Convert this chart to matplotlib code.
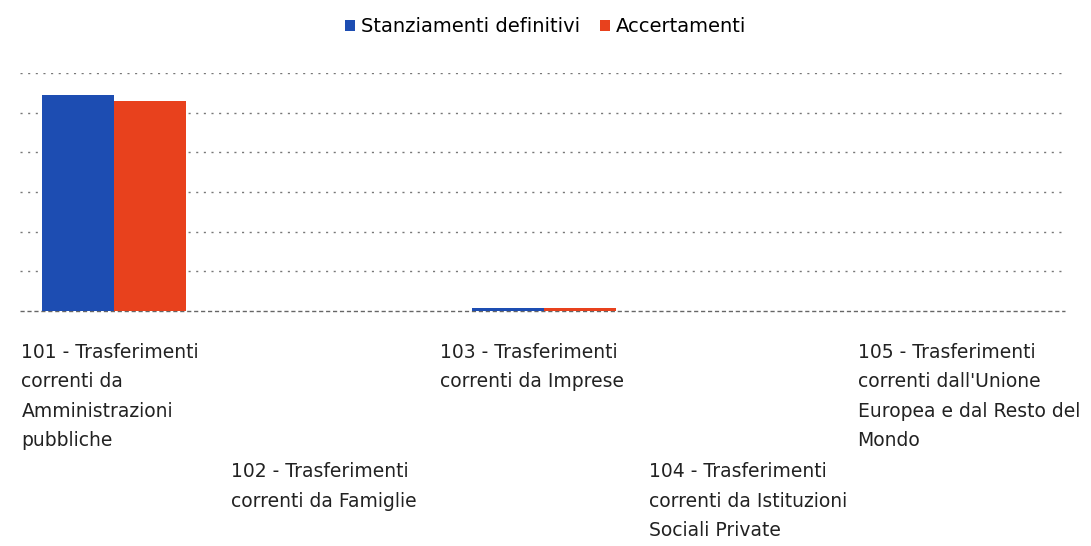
import matplotlib.pyplot as plt
import matplotlib.transforms as mtransforms
import numpy as np

# categorie e valori (scala arbitraria, nessuna etichetta sull'asse y)
categorie = [
    "101 - Trasferimenti\ncorrenti da\nAmministrazioni\npubbliche",
    "102 - Trasferimenti\ncorrenti da Famiglie",
    "103 - Trasferimenti\ncorrenti da Imprese",
    "104 - Trasferimenti\ncorrenti da Istituzioni\nSociali Private",
    "105 - Trasferimenti\ncorrenti dall'Unione\nEuropea e dal Resto del\nMondo",
]
stanziamenti = [5.45, 0.0, 0.07, 0.0, 0.0]
accertamenti = [5.30, 0.0, 0.07, 0.0, 0.0]

col_blu = '#1d4db2'
col_rosso = '#e8411d'

fig = plt.figure(figsize=(10.91, 5.46), dpi=100)
ax = fig.add_axes([0.0183, 0.4304, 0.958, 0.4359])

x = np.arange(len(categorie))
w = 0.335
ax.bar(x - w / 2, stanziamenti, w, color=col_blu, label='Stanziamenti definitivi')
ax.bar(x + w / 2, accertamenti, w, color=col_rosso, label='Accertamenti')

ax.set_xlim(-0.437, 4.423)
ax.set_ylim(0, 6)
ax.set_yticks(np.arange(1, 7))
ax.yaxis.grid(True, linestyle=(0, (1.5, 4)), color='#777777', linewidth=1)
ax.set_axisbelow(True)
ax.axhline(0, color='#666666', linestyle=(0, (3, 2)), linewidth=1, clip_on=False, zorder=0.5)
for s in ax.spines.values():
    s.set_visible(False)
ax.tick_params(left=False, bottom=False, labelleft=False, labelbottom=False)

# etichette delle categorie su due file sfalsate
trans = mtransforms.blended_transform_factory(ax.transData, ax.transAxes)
for i, lab in enumerate(categorie):
    y = -0.133 if i % 2 == 0 else -0.636
    ax.text(i - 0.43 - 0.028 * i, y, lab, transform=trans, ha='left', va='top',
            fontsize=13.5, color='#222222', linespacing=1.7)

fig.legend(loc='upper center', bbox_to_anchor=(0.5, 1.0), ncol=2, frameon=False,
           fontsize=14, handlelength=0.55, handleheight=0.55, handletextpad=0.3,
           columnspacing=1.0)

plt.savefig('out.png', dpi=100)
plt.close()
